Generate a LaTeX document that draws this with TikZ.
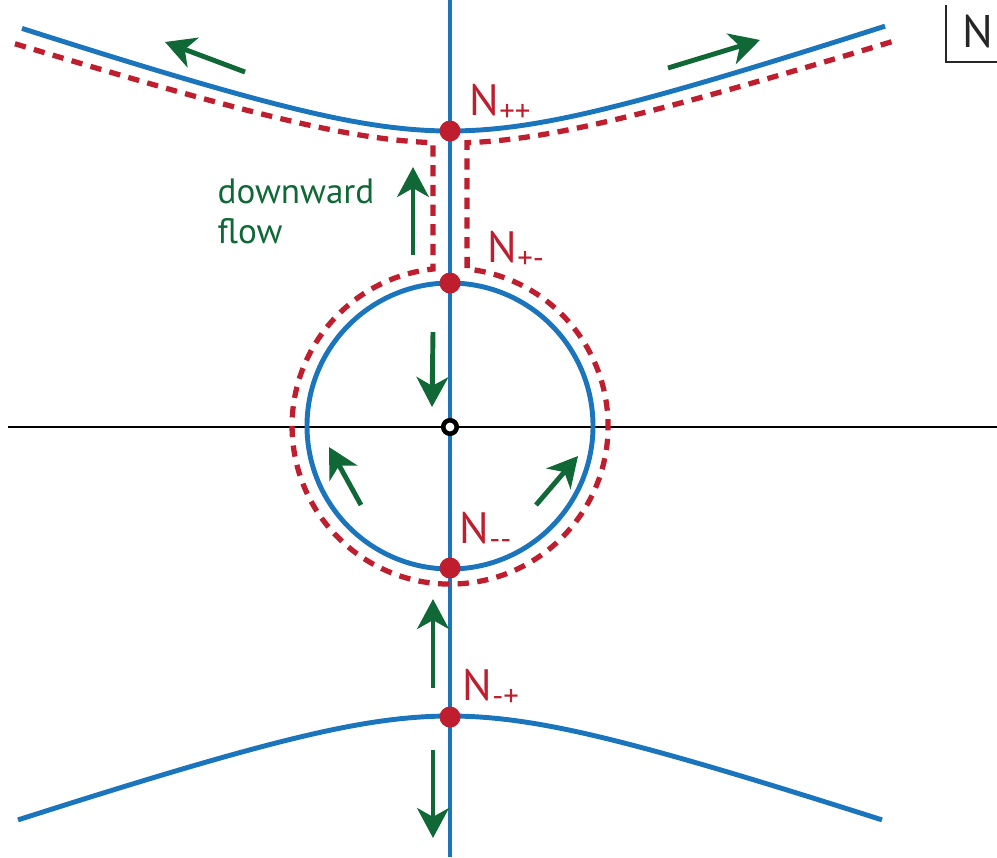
\documentclass[tikz,border=0pt]{standalone}
\usepackage{fontspec}
\setmainfont{PT Sans}
\usetikzlibrary{arrows.meta}
\definecolor{curveblue}{RGB}{26,117,188}
\definecolor{nodered}{RGB}{190,30,45}
\definecolor{flowgreen}{RGB}{16,104,55}

\begin{document}
\begin{tikzpicture}[x=0.01cm, y=-0.01cm,
        declare function={hyp(\t)=sqrt(1+(\t/150)*(\t/150))-1;},
        branch/.style = {draw=curveblue, line width=1.4pt},
        separatrix/.style = {draw=nodered, line width=1.5pt, dash pattern=on 3.2pt off 2.4pt},
        axisline/.style = {draw=black, line width=0.6pt},
        fixpt/.style = {circle, fill=nodered, inner sep=0pt, minimum size=0.21cm},
        zero/.style = {circle, draw=black, line width=1.3pt, fill=white, inner sep=0pt, minimum size=0.135cm},
        lbl/.style = {text=nodered, font=\fontsize{12.5}{15}\selectfont, inner sep=0pt, anchor=base west},
        flowarrow/.style = {draw=flowgreen, line width=1.4pt, -{Stealth[length=8.5pt, width=9pt, inset=2.5pt]}}
    ]
    \useasboundingbox (0,0) rectangle (997,857);

    % ================= CURVAS =================
    \coordinate (top) at (450,0);
    \coordinate (bottom) at (450,857);
    \coordinate (left) at (8,427);
    \coordinate (right) at (997,427);

    \draw[axisline] (left) -- (right);
    \draw[branch] (top) -- (bottom);
    \draw[branch] plot[domain=-428:435, samples=80] ({450+\x},{131-50.7*hyp(\x)});
    \draw[branch] plot[domain=-432:432, samples=80] ({450+\x},{716+50.7*hyp(\x)});
    \draw[branch] (450,426) circle[radius=143];

    % Separatriz (punteada)
    \draw[separatrix] plot[domain=-435:-17, samples=60] ({450+\x},{143-48*hyp(\x)})
        -- (433,269) arc[start angle=263.8, end angle=-83.8, radius=158]
        -- plot[domain=17:447, samples=60] ({450+\x},{143-48*hyp(\x)});

    % ================= PUNTOS FIJOS =================
    \node[fixpt] (npp) at (450,131) {};
    \node[fixpt] (npm) at (450,283) {};
    \node[fixpt] (nmm) at (450,568) {};
    \node[fixpt] (nmp) at (450,717) {};
    \node[zero] (orig) at (450,427) {};

    \node[lbl] (lpp) at (469,115) {N\textsubscript{++}};
    \node[lbl] (lpm) at (487,262) {N\textsubscript{+-}};
    \node[lbl] (lmm) at (459,543) {N\textsubscript{-{}-}};
    \node[lbl] (lmp) at (462,700) {N\textsubscript{-+}};

    \node[text=flowgreen, font=\fontsize{10}{11.3}\selectfont, align=left, anchor=north west, inner sep=0pt] (flowtxt) at (217,178) {downward\\flow};

    % Esquina N
    \node[text=black!85, font=\fontsize{13}{15}\selectfont, anchor=base west, inner sep=0pt] (corner) at (962,47) {N};
    \draw[black!85, line width=0.5pt] (946,5) -- (946,62) -- (997,62);

    % ================= FLECHAS DE FLUJO =================
    \draw[flowarrow] (245,72) -- (165,42);
    \draw[flowarrow] (668,68) -- (760,40);
    \draw[flowarrow] (413,255) -- (413,167);
    \draw[flowarrow] (433,332) -- (432,407);
    \draw[flowarrow] (361,505) -- (329,447);
    \draw[flowarrow] (536,505) -- (578,456);
    \draw[flowarrow] (433,688) -- (433,599);
    \draw[flowarrow] (433,750) -- (433,838);

\end{tikzpicture}
\end{document}
